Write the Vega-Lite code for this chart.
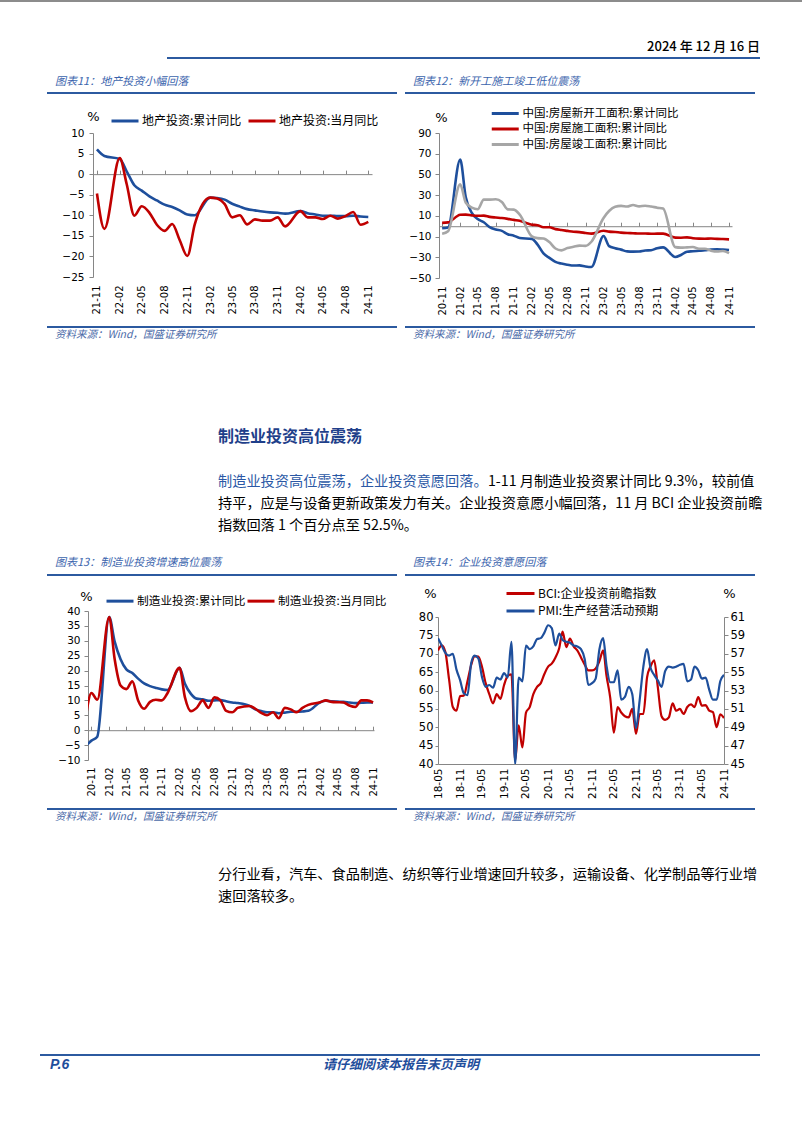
{
"$schema": "https://vega.github.io/schema/vega-lite/v6.json",
"padding": 0,
"background": "#ffffff",
"datasets": {"one": [{}]},
"config": {
  "view": {"stroke": null},
  "font": "Noto Sans CJK SC",
  "axis": {"labelFont": "DejaVu Sans", "labelFontSize": 10, "labelColor": "#000000", "domainColor": "#868686", "tickColor": "#868686", "grid": false, "titleFont": "DejaVu Sans", "titleFontWeight": "normal", "titleColor": "#000000", "titleFontSize": 13, "labelOverlap": false, "labelFlush": false, "labelBound": false},
  "legend": {"labelFont": "Noto Sans CJK SC", "labelColor": "#000000", "symbolType": "stroke", "symbolStrokeWidth": 3, "padding": 0, "labelLimit": 300}
},
"bounds": "flush",
"spacing": 0,
"resolve": {"scale": {"color": "independent"}, "legend": {"color": "independent"}},
"vconcat": [
  {"width": 802, "height": 2, "view": {"fill": "#8c8c8c"}, "data": {"name": "one"}, "mark": {"type": "point", "opacity": 0, "size": 0, "strokeWidth": 0}},
  {"width": 1, "height": 44, "data": {"name": "one"}, "mark": {"type": "point", "opacity": 0, "size": 0, "strokeWidth": 0}},
  {"width": 802, "height": 1, "data": {"name": "one"}, "mark": {"type": "point", "opacity": 0, "size": 0, "strokeWidth": 0},
   "title": {"text": "2024 年 12 月 16 日", "anchor": "end", "orient": "bottom", "frame": "group", "offset": 0, "dx": -42, "baseline": "middle", "font": "Noto Sans CJK SC", "fontSize": 13, "fontWeight": 500, "color": "#000000"}},
  {"width": 1, "height": 10, "data": {"name": "one"}, "mark": {"type": "point", "opacity": 0, "size": 0, "strokeWidth": 0}},
  {"bounds": "flush", "spacing": 0, "hconcat": [
    {"width": 167, "height": 1, "data": {"name": "one"}, "mark": {"type": "point", "opacity": 0, "size": 0, "strokeWidth": 0}},
    {"width": 593, "height": 2, "view": {"fill": "#2c5aa0"}, "data": {"name": "one"}, "mark": {"type": "point", "opacity": 0, "size": 0, "strokeWidth": 0}}
  ]},
  {"width": 1, "height": 24, "data": {"name": "one"}, "mark": {"type": "point", "opacity": 0, "size": 0, "strokeWidth": 0}},
  {"bounds": "flush", "spacing": 0, "hconcat": [
    {"width": 55, "height": 1, "data": {"name": "one"}, "mark": {"type": "point", "opacity": 0, "size": 0, "strokeWidth": 0}},
    {"width": 358, "height": 1, "data": {"name": "one"}, "mark": {"type": "point", "opacity": 0, "size": 0, "strokeWidth": 0},
     "title": {"text": "图表11：地产投资小幅回落", "anchor": "start", "orient": "bottom", "frame": "group", "offset": 0, "baseline": "middle", "font": "Noto Sans CJK SC", "fontSize": 11, "fontStyle": "italic", "fontWeight": "normal", "color": "#3b64ad"}},
    {"width": 350, "height": 1, "data": {"name": "one"}, "mark": {"type": "point", "opacity": 0, "size": 0, "strokeWidth": 0},
     "title": {"text": "图表12：新开工施工竣工低位震荡", "anchor": "start", "orient": "bottom", "frame": "group", "offset": 0, "baseline": "middle", "font": "Noto Sans CJK SC", "fontSize": 11, "fontStyle": "italic", "fontWeight": "normal", "color": "#3b64ad"}}
  ]},
  {"width": 1, "height": 11, "data": {"name": "one"}, "mark": {"type": "point", "opacity": 0, "size": 0, "strokeWidth": 0}},
  {"bounds": "flush", "spacing": 0, "hconcat": [
    {"width": 47, "height": 1, "data": {"name": "one"}, "mark": {"type": "point", "opacity": 0, "size": 0, "strokeWidth": 0}},
    {"width": 350, "height": 2, "view": {"fill": "#2c5aa0"}, "data": {"name": "one"}, "mark": {"type": "point", "opacity": 0, "size": 0, "strokeWidth": 0}},
    {"width": 8, "height": 1, "data": {"name": "one"}, "mark": {"type": "point", "opacity": 0, "size": 0, "strokeWidth": 0}},
    {"width": 350, "height": 2, "view": {"fill": "#2c5aa0"}, "data": {"name": "one"}, "mark": {"type": "point", "opacity": 0, "size": 0, "strokeWidth": 0}}
  ]},
  {"width": 1, "height": 41, "data": {"name": "one"}, "mark": {"type": "point", "opacity": 0, "size": 0, "strokeWidth": 0}},
  {"bounds": "flush", "spacing": 0, "resolve": {"scale": {"color": "independent"}, "legend": {"color": "independent"}}, "hconcat": [
    {"width": 93, "height": 1, "data": {"name": "one"}, "mark": {"type": "point", "opacity": 0, "size": 0, "strokeWidth": 0}},
    {"width": 279, "height": 144,
     "data": {"values": [
      {"d":"2021-11-01","a":6.0,"b":-4.7},{"d":"2021-12-01","a":4.4,"b":-13.3},{"d":"2022-02-01","a":3.7,"b":3.9},{"d":"2022-03-01","a":0.7,"b":-2.4},{"d":"2022-04-01","a":-2.7,"b":-10.1},{"d":"2022-05-01","a":-4.0,"b":-7.8},{"d":"2022-06-01","a":-5.4,"b":-9.4},{"d":"2022-07-01","a":-6.4,"b":-12.3},{"d":"2022-08-01","a":-7.4,"b":-13.8},{"d":"2022-09-01","a":-8.0,"b":-12.1},{"d":"2022-10-01","a":-8.8,"b":-16.0},{"d":"2022-11-01","a":-9.8,"b":-19.9},{"d":"2022-12-01","a":-10.0,"b":-12.2},{"d":"2023-02-01","a":-5.7,"b":-5.7},{"d":"2023-03-01","a":-5.8,"b":-5.9},{"d":"2023-04-01","a":-6.2,"b":-7.3},{"d":"2023-05-01","a":-7.2,"b":-10.5},{"d":"2023-06-01","a":-7.9,"b":-10.0},{"d":"2023-07-01","a":-8.5,"b":-12.2},{"d":"2023-08-01","a":-8.8,"b":-11.0},{"d":"2023-09-01","a":-9.1,"b":-11.3},{"d":"2023-10-01","a":-9.3,"b":-11.3},{"d":"2023-11-01","a":-9.4,"b":-10.5},{"d":"2023-12-01","a":-9.6,"b":-12.7},{"d":"2024-02-01","a":-9.0,"b":-9.0},{"d":"2024-03-01","a":-9.5,"b":-10.5},{"d":"2024-04-01","a":-9.8,"b":-10.5},{"d":"2024-05-01","a":-10.1,"b":-10.9},{"d":"2024-06-01","a":-10.1,"b":-10.1},{"d":"2024-07-01","a":-10.2,"b":-10.8},{"d":"2024-08-01","a":-10.2,"b":-10.2},{"d":"2024-09-01","a":-10.1,"b":-9.2},{"d":"2024-10-01","a":-10.3,"b":-12.3},{"d":"2024-11-01","a":-10.4,"b":-11.6}
     ]},
     "transform": [{"fold": ["a", "b"], "as": ["s", "v"]}],
     "resolve": {"axis": {"x": "independent"}},
     "layer": [
      {"mark": {"type": "line", "interpolate": "monotone", "strokeWidth": 2.6, "clip": true},
       "encoding": {
        "x": {"field": "d", "type": "temporal", "scale": {"type": "utc", "domain": [{"year":2021,"month":10,"date":16,"utc":true},{"year":2024,"month":11,"date":16,"utc":true}]},
              "axis": {"orient": "bottom", "values": [{"year":2021,"month":11,"utc":true},{"year":2022,"month":2,"utc":true},{"year":2022,"month":5,"utc":true},{"year":2022,"month":8,"utc":true},{"year":2022,"month":11,"utc":true},{"year":2023,"month":2,"utc":true},{"year":2023,"month":5,"utc":true},{"year":2023,"month":8,"utc":true},{"year":2023,"month":11,"utc":true},{"year":2024,"month":2,"utc":true},{"year":2024,"month":5,"utc":true},{"year":2024,"month":8,"utc":true},{"year":2024,"month":11,"utc":true}],
                       "format": "%y-%m", "labelAngle": -90, "ticks": false, "tickSize": 0, "domain": false, "labelPadding": 8, "labelOverlap": false, "title": null}},
        "y": {"field": "v", "type": "quantitative", "scale": {"domain": [-25, 10], "nice": false, "zero": false},
              "axis": {"values": [-25,-20,-15,-10,-5,0,5,10], "title": "%", "titleAngle": 0, "titleAlign": "center", "titleBaseline": "middle", "titleX": 0, "titleY": -17, "tickSize": 4, "labelPadding": 5, "labelFontSize": 10.5, "labelOverlap": false}},
        "color": {"field": "s", "type": "nominal", "scale": {"domain": ["a", "b"], "range": ["#1e4f9c", "#c00000"]},
                  "legend": {"orient": "none", "legendX": 17, "legendY": -27, "direction": "horizontal", "title": null, "symbolSize": 729, "labelFontSize": 12, "columnPadding": 0, "labelOffset": 2,
                             "labelExpr": "datum.label == 'a' ? '地产投资:累计同比' : '地产投资:当月同比'"}}
       }},
      {"mark": {"type": "point", "opacity": 0},
       "encoding": {
        "x": {"field": "d", "type": "temporal",
              "axis": {"orient": "top", "offset": -41.14, "values": [{"year":2021,"month":11,"utc":true},{"year":2022,"month":2,"utc":true},{"year":2022,"month":5,"utc":true},{"year":2022,"month":8,"utc":true},{"year":2022,"month":11,"utc":true},{"year":2023,"month":2,"utc":true},{"year":2023,"month":5,"utc":true},{"year":2023,"month":8,"utc":true},{"year":2023,"month":11,"utc":true},{"year":2024,"month":2,"utc":true},{"year":2024,"month":5,"utc":true},{"year":2024,"month":8,"utc":true},{"year":2024,"month":11,"utc":true}],
                       "labels": false, "ticks": true, "tickSize": 4, "domain": true, "title": null}},
        "y": {"field": "v", "type": "quantitative", "axis": {"values": [-25,-20,-15,-10,-5,0,5,10], "labelOverlap": false}}
       }}
     ]},
    {"width": 67, "height": 1, "data": {"name": "one"}, "mark": {"type": "point", "opacity": 0, "size": 0, "strokeWidth": 0}},
    {"width": 293, "height": 145,
     "data": {"values": [
      {"d":"2020-11-01","n":-2.0,"c":3.2,"w":-7.3},{"d":"2020-12-01","n":-1.2,"c":3.7,"w":-4.9},{"d":"2021-02-01","n":64.3,"c":11.0,"w":40.4},{"d":"2021-03-01","n":28.2,"c":11.2,"w":22.9},{"d":"2021-04-01","n":12.8,"c":10.5,"w":17.9},{"d":"2021-05-01","n":6.9,"c":10.1,"w":16.4},{"d":"2021-06-01","n":3.8,"c":10.2,"w":25.7},{"d":"2021-07-01","n":-0.9,"c":9.0,"w":25.7},{"d":"2021-08-01","n":-3.2,"c":8.4,"w":26.0},{"d":"2021-09-01","n":-4.5,"c":7.9,"w":23.4},{"d":"2021-10-01","n":-7.7,"c":7.1,"w":16.3},{"d":"2021-11-01","n":-9.1,"c":6.1,"w":16.0},{"d":"2021-12-01","n":-11.4,"c":5.2,"w":11.2},
      {"d":"2022-02-01","n":-12.2,"c":1.5,"w":-9.8},{"d":"2022-03-01","n":-17.5,"c":1.0,"w":-11.5},{"d":"2022-04-01","n":-26.3,"c":-1.0,"w":-11.9},{"d":"2022-05-01","n":-30.6,"c":-1.0,"w":-15.3},{"d":"2022-06-01","n":-34.4,"c":-2.8,"w":-21.5},{"d":"2022-07-01","n":-36.1,"c":-3.7,"w":-23.3},{"d":"2022-08-01","n":-37.2,"c":-4.5,"w":-21.1},{"d":"2022-09-01","n":-38.0,"c":-5.3,"w":-19.9},{"d":"2022-10-01","n":-37.8,"c":-5.7,"w":-18.7},{"d":"2022-11-01","n":-38.9,"c":-6.5,"w":-19.0},{"d":"2022-12-01","n":-39.4,"c":-7.2,"w":-15.0},
      {"d":"2023-02-01","n":-9.4,"c":-4.4,"w":8.0},{"d":"2023-03-01","n":-19.2,"c":-5.2,"w":14.7},{"d":"2023-04-01","n":-21.2,"c":-5.6,"w":18.8},{"d":"2023-05-01","n":-22.6,"c":-6.2,"w":19.6},{"d":"2023-06-01","n":-24.3,"c":-6.6,"w":19.0},{"d":"2023-07-01","n":-24.5,"c":-6.8,"w":20.5},{"d":"2023-08-01","n":-24.4,"c":-7.1,"w":19.2},{"d":"2023-09-01","n":-23.4,"c":-7.1,"w":19.8},{"d":"2023-10-01","n":-23.2,"c":-7.3,"w":19.0},{"d":"2023-11-01","n":-21.2,"c":-7.2,"w":17.9},{"d":"2023-12-01","n":-20.4,"c":-7.2,"w":17.0},
      {"d":"2024-02-01","n":-29.7,"c":-11.0,"w":-20.2},{"d":"2024-03-01","n":-27.8,"c":-11.1,"w":-20.7},{"d":"2024-04-01","n":-24.6,"c":-10.8,"w":-20.4},{"d":"2024-05-01","n":-24.2,"c":-11.6,"w":-20.1},{"d":"2024-06-01","n":-23.7,"c":-12.0,"w":-21.8},{"d":"2024-07-01","n":-23.2,"c":-12.1,"w":-21.8},{"d":"2024-08-01","n":-22.5,"c":-11.9,"w":-23.6},{"d":"2024-09-01","n":-22.2,"c":-12.2,"w":-24.4},{"d":"2024-10-01","n":-22.6,"c":-12.4,"w":-23.9},{"d":"2024-11-01","n":-23.0,"c":-12.7,"w":-26.0}
     ]},
     "transform": [{"fold": ["n", "c", "w"], "as": ["s", "v"]}],
     "resolve": {"axis": {"x": "independent"}},
     "layer": [
      {"mark": {"type": "line", "interpolate": "monotone", "strokeWidth": 2.6, "clip": true},
       "encoding": {
        "x": {"field": "d", "type": "temporal", "scale": {"type": "utc", "domain": [{"year":2020,"month":10,"date":16,"utc":true},{"year":2024,"month":11,"date":16,"utc":true}]},
              "axis": {"orient": "bottom", "values": [{"year":2020,"month":11,"utc":true},{"year":2021,"month":2,"utc":true},{"year":2021,"month":5,"utc":true},{"year":2021,"month":8,"utc":true},{"year":2021,"month":11,"utc":true},{"year":2022,"month":2,"utc":true},{"year":2022,"month":5,"utc":true},{"year":2022,"month":8,"utc":true},{"year":2022,"month":11,"utc":true},{"year":2023,"month":2,"utc":true},{"year":2023,"month":5,"utc":true},{"year":2023,"month":8,"utc":true},{"year":2023,"month":11,"utc":true},{"year":2024,"month":2,"utc":true},{"year":2024,"month":5,"utc":true},{"year":2024,"month":8,"utc":true},{"year":2024,"month":11,"utc":true}],
                       "format": "%y-%m", "labelAngle": -90, "ticks": false, "tickSize": 0, "domain": false, "labelPadding": 8, "labelOverlap": false, "title": null}},
        "y": {"field": "v", "type": "quantitative", "scale": {"domain": [-50, 90], "nice": false, "zero": false},
              "axis": {"values": [-50,-30,-10,10,30,50,70,90], "title": "%", "titleAngle": 0, "titleAlign": "center", "titleBaseline": "middle", "titleX": 2, "titleY": -16, "tickSize": 4, "labelPadding": 4, "labelFontSize": 10.5, "labelOverlap": false}},
        "color": {"field": "s", "type": "nominal", "scale": {"domain": ["n", "c", "w"], "range": ["#1e4f9c", "#c00000", "#a6a6a6"]},
                  "legend": {"orient": "none", "legendX": 57.75, "legendY": -28, "direction": "vertical", "title": null, "symbolType": "M-2,0H2", "symbolSize": 182, "labelFontSize": 11.5, "rowPadding": 0.5, "labelOffset": 8.75,
                             "labelExpr": "datum.label == 'n' ? '中国:房屋新开工面积:累计同比' : datum.label == 'c' ? '中国:房屋施工面积:累计同比' : '中国:房屋竣工面积:累计同比'"}}
       }},
      {"mark": {"type": "point", "opacity": 0},
       "encoding": {
        "x": {"field": "d", "type": "temporal",
              "axis": {"orient": "top", "offset": -93.21, "values": [{"year":2020,"month":11,"utc":true},{"year":2021,"month":2,"utc":true},{"year":2021,"month":5,"utc":true},{"year":2021,"month":8,"utc":true},{"year":2021,"month":11,"utc":true},{"year":2022,"month":2,"utc":true},{"year":2022,"month":5,"utc":true},{"year":2022,"month":8,"utc":true},{"year":2022,"month":11,"utc":true},{"year":2023,"month":2,"utc":true},{"year":2023,"month":5,"utc":true},{"year":2023,"month":8,"utc":true},{"year":2023,"month":11,"utc":true},{"year":2024,"month":2,"utc":true},{"year":2024,"month":5,"utc":true},{"year":2024,"month":8,"utc":true},{"year":2024,"month":11,"utc":true}],
                       "labels": false, "ticks": true, "tickSize": 4, "domain": true, "title": null}},
        "y": {"field": "v", "type": "quantitative", "axis": {"values": [-50,-30,-10,10,30,50,70,90], "labelOverlap": false}}
       }}
     ]}
  ]},
  {"width": 1, "height": 193, "data": {"name": "one"}, "mark": {"type": "point", "opacity": 0, "size": 0, "strokeWidth": 0}},
  {"bounds": "flush", "spacing": 0, "hconcat": [
    {"width": 47, "height": 1, "data": {"name": "one"}, "mark": {"type": "point", "opacity": 0, "size": 0, "strokeWidth": 0}},
    {"width": 350, "height": 2, "view": {"fill": "#2c5aa0"}, "data": {"name": "one"}, "mark": {"type": "point", "opacity": 0, "size": 0, "strokeWidth": 0},
     "title": {"text": "资料来源：Wind，国盛证券研究所", "anchor": "start", "orient": "bottom", "frame": "group", "offset": 7, "dx": 8, "baseline": "middle", "font": "Noto Sans CJK SC", "fontSize": 10.5, "fontStyle": "italic", "fontWeight": "normal", "color": "#4b6aa8"}},
    {"width": 8, "height": 1, "data": {"name": "one"}, "mark": {"type": "point", "opacity": 0, "size": 0, "strokeWidth": 0}},
    {"width": 350, "height": 2, "view": {"fill": "#2c5aa0"}, "data": {"name": "one"}, "mark": {"type": "point", "opacity": 0, "size": 0, "strokeWidth": 0},
     "title": {"text": "资料来源：Wind，国盛证券研究所", "anchor": "start", "orient": "bottom", "frame": "group", "offset": 7, "dx": 8, "baseline": "middle", "font": "Noto Sans CJK SC", "fontSize": 10.5, "fontStyle": "italic", "fontWeight": "normal", "color": "#4b6aa8"}}
  ]},
  {"width": 1, "height": 110, "data": {"name": "one"}, "mark": {"type": "point", "opacity": 0, "size": 0, "strokeWidth": 0}},
  {"width": 802, "height": 1, "data": {"name": "one"}, "mark": {"type": "point", "opacity": 0, "size": 0, "strokeWidth": 0},
   "title": {"text": "制造业投资高位震荡", "anchor": "start", "orient": "bottom", "frame": "group", "offset": 0, "dx": 218, "baseline": "middle", "font": "Noto Sans CJK SC", "fontSize": 16, "fontWeight": "bold", "color": "#1f3f8a"}},
  {"width": 1, "height": 44, "data": {"name": "one"}, "mark": {"type": "point", "opacity": 0, "size": 0, "strokeWidth": 0}},
  {"bounds": "flush", "spacing": 0, "hconcat": [
    {"width": 218, "height": 1, "data": {"name": "one"}, "mark": {"type": "point", "opacity": 0, "size": 0, "strokeWidth": 0}},
    {"width": 270, "height": 1, "data": {"name": "one"}, "mark": {"type": "point", "opacity": 0, "size": 0, "strokeWidth": 0},
     "title": {"text": "制造业投资高位震荡，企业投资意愿回落。", "anchor": "start", "orient": "bottom", "frame": "group", "offset": 0, "baseline": "middle", "font": "Noto Sans CJK SC", "fontSize": 14.2, "fontWeight": "normal", "color": "#2b58a5"}},
    {"width": 272, "height": 1, "data": {"name": "one"}, "mark": {"type": "point", "opacity": 0, "size": 0, "strokeWidth": 0},
     "title": {"text": "1-11 月制造业投资累计同比 9.3%，较前值", "anchor": "start", "orient": "bottom", "frame": "group", "offset": 0, "baseline": "middle", "font": "Noto Sans CJK SC", "fontSize": 14.2, "fontWeight": "normal", "color": "#000000"}}
  ]},
  {"width": 1, "height": 22, "data": {"name": "one"}, "mark": {"type": "point", "opacity": 0, "size": 0, "strokeWidth": 0}},
  {"width": 802, "height": 1, "data": {"name": "one"}, "mark": {"type": "point", "opacity": 0, "size": 0, "strokeWidth": 0},
   "title": {"text": "持平，应是与设备更新政策发力有关。企业投资意愿小幅回落，11 月 BCI 企业投资前瞻", "anchor": "start", "orient": "bottom", "frame": "group", "offset": 0, "dx": 218, "baseline": "middle", "font": "Noto Sans CJK SC", "fontSize": 14.2, "fontWeight": "normal", "color": "#000000"}},
  {"width": 1, "height": 21, "data": {"name": "one"}, "mark": {"type": "point", "opacity": 0, "size": 0, "strokeWidth": 0}},
  {"width": 802, "height": 1, "data": {"name": "one"}, "mark": {"type": "point", "opacity": 0, "size": 0, "strokeWidth": 0},
   "title": {"text": "指数回落 1 个百分点至 52.5%。", "anchor": "start", "orient": "bottom", "frame": "group", "offset": 0, "dx": 218, "baseline": "middle", "font": "Noto Sans CJK SC", "fontSize": 14.2, "fontWeight": "normal", "color": "#000000"}},
  {"width": 1, "height": 36, "data": {"name": "one"}, "mark": {"type": "point", "opacity": 0, "size": 0, "strokeWidth": 0}},
  {"bounds": "flush", "spacing": 0, "hconcat": [
    {"width": 55, "height": 1, "data": {"name": "one"}, "mark": {"type": "point", "opacity": 0, "size": 0, "strokeWidth": 0}},
    {"width": 358, "height": 1, "data": {"name": "one"}, "mark": {"type": "point", "opacity": 0, "size": 0, "strokeWidth": 0},
     "title": {"text": "图表13：制造业投资增速高位震荡", "anchor": "start", "orient": "bottom", "frame": "group", "offset": 0, "baseline": "middle", "font": "Noto Sans CJK SC", "fontSize": 11, "fontStyle": "italic", "fontWeight": "normal", "color": "#3b64ad"}},
    {"width": 350, "height": 1, "data": {"name": "one"}, "mark": {"type": "point", "opacity": 0, "size": 0, "strokeWidth": 0},
     "title": {"text": "图表14：企业投资意愿回落", "anchor": "start", "orient": "bottom", "frame": "group", "offset": 0, "baseline": "middle", "font": "Noto Sans CJK SC", "fontSize": 11, "fontStyle": "italic", "fontWeight": "normal", "color": "#3b64ad"}}
  ]},
  {"width": 1, "height": 12, "data": {"name": "one"}, "mark": {"type": "point", "opacity": 0, "size": 0, "strokeWidth": 0}},
  {"bounds": "flush", "spacing": 0, "hconcat": [
    {"width": 47, "height": 1, "data": {"name": "one"}, "mark": {"type": "point", "opacity": 0, "size": 0, "strokeWidth": 0}},
    {"width": 350, "height": 2, "view": {"fill": "#2c5aa0"}, "data": {"name": "one"}, "mark": {"type": "point", "opacity": 0, "size": 0, "strokeWidth": 0}},
    {"width": 8, "height": 1, "data": {"name": "one"}, "mark": {"type": "point", "opacity": 0, "size": 0, "strokeWidth": 0}},
    {"width": 350, "height": 2, "view": {"fill": "#2c5aa0"}, "data": {"name": "one"}, "mark": {"type": "point", "opacity": 0, "size": 0, "strokeWidth": 0}}
  ]},
  {"width": 1, "height": 37, "data": {"name": "one"}, "mark": {"type": "point", "opacity": 0, "size": 0, "strokeWidth": 0}},
  {"bounds": "flush", "spacing": 0, "resolve": {"scale": {"color": "independent"}, "legend": {"color": "independent"}}, "hconcat": [
    {"width": 88, "height": 1, "data": {"name": "one"}, "mark": {"type": "point", "opacity": 0, "size": 0, "strokeWidth": 0}},
    {"width": 286, "height": 149,
     "data": {"values": [
      {"d":"2020-10-01","m":-5.3,"r":3.7},{"d":"2020-11-01","m":-3.5,"r":12.5},{"d":"2020-12-01","m":-2.2,"r":10.2},{"d":"2021-02-01","m":38.0,"r":38.0},{"d":"2021-03-01","m":29.8,"r":24.0},{"d":"2021-04-01","m":23.8,"r":15.0},{"d":"2021-05-01","m":20.4,"r":13.8},{"d":"2021-06-01","m":19.2,"r":16.4},{"d":"2021-07-01","m":17.3,"r":10.0},{"d":"2021-08-01","m":15.7,"r":7.2},{"d":"2021-09-01","m":14.8,"r":9.5},{"d":"2021-10-01","m":14.2,"r":10.2},{"d":"2021-11-01","m":13.7,"r":10.0},{"d":"2021-12-01","m":13.5,"r":12.5},
      {"d":"2022-02-01","m":20.9,"r":20.9},{"d":"2022-03-01","m":15.6,"r":11.0},{"d":"2022-04-01","m":12.2,"r":6.4},{"d":"2022-05-01","m":10.6,"r":7.5},{"d":"2022-06-01","m":10.4,"r":10.0},{"d":"2022-07-01","m":9.9,"r":7.5},{"d":"2022-08-01","m":10.0,"r":11.0},{"d":"2022-09-01","m":10.1,"r":10.0},{"d":"2022-10-01","m":9.7,"r":6.5},{"d":"2022-11-01","m":9.3,"r":6.0},{"d":"2022-12-01","m":9.1,"r":7.5},
      {"d":"2023-02-01","m":8.1,"r":8.1},{"d":"2023-03-01","m":7.0,"r":7.2},{"d":"2023-04-01","m":6.4,"r":5.8},{"d":"2023-05-01","m":6.0,"r":5.0},{"d":"2023-06-01","m":6.0,"r":6.0},{"d":"2023-07-01","m":5.7,"r":4.0},{"d":"2023-08-01","m":5.9,"r":7.5},{"d":"2023-09-01","m":6.2,"r":7.0},{"d":"2023-10-01","m":6.2,"r":6.0},{"d":"2023-11-01","m":6.3,"r":7.5},{"d":"2023-12-01","m":6.5,"r":8.5},
      {"d":"2024-02-01","m":9.4,"r":9.4},{"d":"2024-03-01","m":9.9,"r":10.0},{"d":"2024-04-01","m":9.7,"r":9.5},{"d":"2024-05-01","m":9.6,"r":9.4},{"d":"2024-06-01","m":9.5,"r":9.3},{"d":"2024-07-01","m":9.3,"r":8.3},{"d":"2024-08-01","m":9.1,"r":7.8},{"d":"2024-09-01","m":9.2,"r":10.0},{"d":"2024-10-01","m":9.3,"r":10.0},{"d":"2024-11-01","m":9.3,"r":9.3}
     ]},
     "transform": [{"fold": ["m", "r"], "as": ["s", "v"]}],
     "resolve": {"axis": {"x": "independent"}},
     "layer": [
      {"mark": {"type": "line", "interpolate": "monotone", "strokeWidth": 2.6, "clip": true},
       "encoding": {
        "x": {"field": "d", "type": "temporal", "scale": {"type": "utc", "domain": [{"year":2020,"month":10,"date":14,"utc":true},{"year":2024,"month":11,"date":6,"utc":true}]},
              "axis": {"orient": "bottom", "values": [{"year":2020,"month":11,"utc":true},{"year":2021,"month":2,"utc":true},{"year":2021,"month":5,"utc":true},{"year":2021,"month":8,"utc":true},{"year":2021,"month":11,"utc":true},{"year":2022,"month":2,"utc":true},{"year":2022,"month":5,"utc":true},{"year":2022,"month":8,"utc":true},{"year":2022,"month":11,"utc":true},{"year":2023,"month":2,"utc":true},{"year":2023,"month":5,"utc":true},{"year":2023,"month":8,"utc":true},{"year":2023,"month":11,"utc":true},{"year":2024,"month":2,"utc":true},{"year":2024,"month":5,"utc":true},{"year":2024,"month":8,"utc":true},{"year":2024,"month":11,"utc":true}],
                       "format": "%y-%m", "labelAngle": -90, "ticks": false, "tickSize": 0, "domain": false, "labelPadding": 7, "labelOverlap": false, "title": null}},
        "y": {"field": "v", "type": "quantitative", "scale": {"domain": [-10, 40], "nice": false, "zero": false},
              "axis": {"values": [-10,-5,0,5,10,15,20,25,30,35,40], "title": "%", "titleAngle": 0, "titleAlign": "center", "titleBaseline": "middle", "titleX": -2, "titleY": -15, "tickSize": 4, "labelPadding": 4, "labelFontSize": 10.5, "labelOverlap": false}},
        "color": {"field": "s", "type": "nominal", "scale": {"domain": ["m", "r"], "range": ["#1e4f9c", "#c00000"]},
                  "legend": {"orient": "none", "legendX": 17, "legendY": -25, "direction": "horizontal", "title": null, "symbolSize": 729, "labelFontSize": 11.7, "columnPadding": -5, "labelOffset": 2,
                             "labelExpr": "datum.label == 'm' ? '制造业投资:累计同比' : '制造业投资:当月同比'"}}
       }},
      {"mark": {"type": "point", "opacity": 0},
       "encoding": {
        "x": {"field": "d", "type": "temporal",
              "axis": {"orient": "top", "offset": -119.2, "values": [{"year":2020,"month":11,"utc":true},{"year":2021,"month":2,"utc":true},{"year":2021,"month":5,"utc":true},{"year":2021,"month":8,"utc":true},{"year":2021,"month":11,"utc":true},{"year":2022,"month":2,"utc":true},{"year":2022,"month":5,"utc":true},{"year":2022,"month":8,"utc":true},{"year":2022,"month":11,"utc":true},{"year":2023,"month":2,"utc":true},{"year":2023,"month":5,"utc":true},{"year":2023,"month":8,"utc":true},{"year":2023,"month":11,"utc":true},{"year":2024,"month":2,"utc":true},{"year":2024,"month":5,"utc":true},{"year":2024,"month":8,"utc":true},{"year":2024,"month":11,"utc":true}],
                       "labels": false, "ticks": true, "tickSize": 4, "domain": true, "title": null}},
        "y": {"field": "v", "type": "quantitative", "axis": {"values": [-10,-5,0,5,10,15,20,25,30,35,40], "labelOverlap": false}}
       }}
     ]}
  ]},
  {"width": 1, "height": 6, "data": {"name": "one"}, "mark": {"type": "point", "opacity": 0, "size": 0, "strokeWidth": 0}},
  {"bounds": "flush", "spacing": 0, "resolve": {"scale": {"color": "independent"}, "legend": {"color": "independent"}}, "hconcat": [
    {"width": 438, "height": 1, "data": {"name": "one"}, "mark": {"type": "point", "opacity": 0, "size": 0, "strokeWidth": 0}},
    {"width": 286, "height": 147,
     "data": {"values": [
      {"d":"2018-05-01","bci":70.9,"pmi":58.7},{"d":"2018-06-01","bci":72.3,"pmi":57.9},{"d":"2018-07-01","bci":70.5,"pmi":57.1},{"d":"2018-08-01","bci":63.0,"pmi":56.8},{"d":"2018-09-01","bci":55.5,"pmi":57.0},{"d":"2018-10-01","bci":54.5,"pmi":55.3},{"d":"2018-11-01","bci":58.5,"pmi":54.1},{"d":"2018-12-01","bci":58.6,"pmi":52.7},
      {"d":"2019-01-01","bci":62.5,"pmi":52.5},{"d":"2019-02-01","bci":67.0,"pmi":56.0},{"d":"2019-03-01","bci":69.3,"pmi":56.8},{"d":"2019-04-01","bci":69.2,"pmi":56.5},{"d":"2019-05-01","bci":66.5,"pmi":54.5},{"d":"2019-06-01","bci":62.0,"pmi":53.4},{"d":"2019-07-01","bci":59.0,"pmi":53.6},{"d":"2019-08-01","bci":56.5,"pmi":53.3},{"d":"2019-09-01","bci":59.0,"pmi":54.4},{"d":"2019-10-01","bci":57.7,"pmi":54.2},{"d":"2019-11-01","bci":61.5,"pmi":54.9},{"d":"2019-12-01","bci":64.0,"pmi":54.4},
      {"d":"2020-01-01","bci":64.4,"pmi":58.3},{"d":"2020-02-01","bci":41.0,"pmi":45.0},{"d":"2020-03-01","bci":50.5,"pmi":54.4},{"d":"2020-04-01","bci":44.5,"pmi":54.0},{"d":"2020-05-01","bci":54.0,"pmi":57.9},{"d":"2020-06-01","bci":55.5,"pmi":57.5},{"d":"2020-07-01","bci":59.0,"pmi":57.8},{"d":"2020-08-01","bci":61.0,"pmi":58.6},{"d":"2020-09-01","bci":62.0,"pmi":58.7},{"d":"2020-10-01","bci":64.5,"pmi":59.3},{"d":"2020-11-01","bci":66.5,"pmi":60.1},{"d":"2020-12-01","bci":67.3,"pmi":59.8},
      {"d":"2021-01-01","bci":69.0,"pmi":57.9},{"d":"2021-02-01","bci":71.5,"pmi":59.2},{"d":"2021-03-01","bci":76.0,"pmi":58.5},{"d":"2021-04-01","bci":71.8,"pmi":58.3},{"d":"2021-05-01","bci":74.1,"pmi":58.2},{"d":"2021-06-01","bci":72.0,"pmi":57.9},{"d":"2021-07-01","bci":70.9,"pmi":57.8},{"d":"2021-08-01","bci":69.0,"pmi":57.5},{"d":"2021-09-01","bci":67.0,"pmi":56.4},{"d":"2021-10-01","bci":65.5,"pmi":53.6},{"d":"2021-11-01","bci":65.5,"pmi":53.8},{"d":"2021-12-01","bci":66.0,"pmi":54.3},
      {"d":"2022-01-01","bci":68.0,"pmi":57.5},{"d":"2022-02-01","bci":70.9,"pmi":58.7},{"d":"2022-03-01","bci":64.0,"pmi":55.7},{"d":"2022-04-01","bci":58.0,"pmi":53.9},{"d":"2022-05-01","bci":48.5,"pmi":53.9},{"d":"2022-06-01","bci":55.5,"pmi":55.2},{"d":"2022-07-01","bci":54.0,"pmi":52.0},{"d":"2022-08-01","bci":53.0,"pmi":52.3},{"d":"2022-09-01","bci":52.7,"pmi":53.4},{"d":"2022-10-01","bci":55.0,"pmi":52.6},{"d":"2022-11-01","bci":48.2,"pmi":48.9},{"d":"2022-12-01","bci":53.6,"pmi":51.9},
      {"d":"2023-01-01","bci":53.6,"pmi":55.6},{"d":"2023-02-01","bci":63.6,"pmi":57.5},{"d":"2023-03-01","bci":66.5,"pmi":55.5},{"d":"2023-04-01","bci":68.2,"pmi":54.7},{"d":"2023-05-01","bci":61.0,"pmi":54.1},{"d":"2023-06-01","bci":53.0,"pmi":53.4},{"d":"2023-07-01","bci":52.0,"pmi":55.1},{"d":"2023-08-01","bci":52.7,"pmi":55.6},{"d":"2023-09-01","bci":56.5,"pmi":55.5},{"d":"2023-10-01","bci":54.5,"pmi":55.6},{"d":"2023-11-01","bci":55.0,"pmi":55.8},{"d":"2023-12-01","bci":53.6,"pmi":55.9},
      {"d":"2024-01-01","bci":55.5,"pmi":54.0},{"d":"2024-02-01","bci":56.2,"pmi":54.2},{"d":"2024-03-01","bci":55.5,"pmi":55.6},{"d":"2024-04-01","bci":58.2,"pmi":55.2},{"d":"2024-05-01","bci":55.9,"pmi":54.3},{"d":"2024-06-01","bci":56.0,"pmi":54.4},{"d":"2024-07-01","bci":54.5,"pmi":53.1},{"d":"2024-08-01","bci":54.1,"pmi":52.0},{"d":"2024-09-01","bci":50.0,"pmi":52.0},{"d":"2024-10-01","bci":53.5,"pmi":54.0},{"d":"2024-11-01","bci":52.5,"pmi":54.7}
     ]},
     "resolve": {"scale": {"y": "independent"}},
     "layer": [
      {"mark": {"type": "line", "interpolate": "monotone", "strokeWidth": 2.2, "clip": true},
       "encoding": {
        "x": {"field": "d", "type": "temporal", "scale": {"type": "utc", "domain": [{"year":2018,"month":5,"date":1,"utc":true},{"year":2024,"month":11,"date":1,"utc":true}]},
              "axis": {"orient": "bottom", "values": [{"year":2018,"month":5,"utc":true},{"year":2018,"month":11,"utc":true},{"year":2019,"month":5,"utc":true},{"year":2019,"month":11,"utc":true},{"year":2020,"month":5,"utc":true},{"year":2020,"month":11,"utc":true},{"year":2021,"month":5,"utc":true},{"year":2021,"month":11,"utc":true},{"year":2022,"month":5,"utc":true},{"year":2022,"month":11,"utc":true},{"year":2023,"month":5,"utc":true},{"year":2023,"month":11,"utc":true},{"year":2024,"month":5,"utc":true},{"year":2024,"month":11,"utc":true}],
                       "format": "%y-%m", "labelAngle": -90, "ticks": false, "tickSize": 0, "domain": true, "labelPadding": 4, "labelFontSize": 10.5, "labelOverlap": false, "title": null}},
        "y": {"field": "bci", "type": "quantitative", "scale": {"domain": [40, 80], "nice": false, "zero": false},
              "axis": {"orient": "left", "values": [40,45,50,55,60,65,70,75,80], "title": "%", "titleAngle": 0, "titleAlign": "center", "titleBaseline": "middle", "titleX": -8, "titleY": -24, "tickSize": 3, "labelPadding": 2, "labelFontSize": 11.5, "labelOverlap": false}},
        "color": {"datum": "BCI:企业投资前瞻指数", "type": "nominal", "scale": {"domain": ["BCI:企业投资前瞻指数", "PMI:生产经营活动预期"], "range": ["#c00000", "#1e4f9c"]},
                  "legend": {"orient": "none", "legendX": 74, "legendY": -32, "direction": "vertical", "title": null, "symbolType": "M-2,0H2", "symbolSize": 196, "labelFontSize": 12, "rowPadding": 2.5, "labelOffset": 9}}
       }},
      {"mark": {"type": "line", "interpolate": "monotone", "strokeWidth": 2.2, "clip": true},
       "encoding": {
        "x": {"field": "d", "type": "temporal", "axis": {"values": [{"year":2018,"month":5,"utc":true},{"year":2018,"month":11,"utc":true},{"year":2019,"month":5,"utc":true},{"year":2019,"month":11,"utc":true},{"year":2020,"month":5,"utc":true},{"year":2020,"month":11,"utc":true},{"year":2021,"month":5,"utc":true},{"year":2021,"month":11,"utc":true},{"year":2022,"month":5,"utc":true},{"year":2022,"month":11,"utc":true},{"year":2023,"month":5,"utc":true},{"year":2023,"month":11,"utc":true},{"year":2024,"month":5,"utc":true},{"year":2024,"month":11,"utc":true}], "labelOverlap": false}},
        "y": {"field": "pmi", "type": "quantitative", "scale": {"domain": [45, 61], "nice": false, "zero": false},
              "axis": {"orient": "right", "values": [45,47,49,51,53,55,57,59,61], "title": "%", "titleAngle": 0, "titleAlign": "center", "titleBaseline": "middle", "titleX": 5, "titleY": -24, "tickSize": 4, "labelPadding": 2, "labelFontSize": 11.5, "labelOverlap": false}},
        "color": {"datum": "PMI:生产经营活动预期", "type": "nominal"}
       }}
     ]}
  ]},
  {"width": 1, "height": 191, "data": {"name": "one"}, "mark": {"type": "point", "opacity": 0, "size": 0, "strokeWidth": 0}},
  {"bounds": "flush", "spacing": 0, "hconcat": [
    {"width": 47, "height": 1, "data": {"name": "one"}, "mark": {"type": "point", "opacity": 0, "size": 0, "strokeWidth": 0}},
    {"width": 350, "height": 2, "view": {"fill": "#2c5aa0"}, "data": {"name": "one"}, "mark": {"type": "point", "opacity": 0, "size": 0, "strokeWidth": 0},
     "title": {"text": "资料来源：Wind，国盛证券研究所", "anchor": "start", "orient": "bottom", "frame": "group", "offset": 7, "dx": 8, "baseline": "middle", "font": "Noto Sans CJK SC", "fontSize": 10.5, "fontStyle": "italic", "fontWeight": "normal", "color": "#4b6aa8"}},
    {"width": 8, "height": 1, "data": {"name": "one"}, "mark": {"type": "point", "opacity": 0, "size": 0, "strokeWidth": 0}},
    {"width": 350, "height": 2, "view": {"fill": "#2c5aa0"}, "data": {"name": "one"}, "mark": {"type": "point", "opacity": 0, "size": 0, "strokeWidth": 0},
     "title": {"text": "资料来源：Wind，国盛证券研究所", "anchor": "start", "orient": "bottom", "frame": "group", "offset": 7, "dx": 8, "baseline": "middle", "font": "Noto Sans CJK SC", "fontSize": 10.5, "fontStyle": "italic", "fontWeight": "normal", "color": "#4b6aa8"}}
  ]},
  {"width": 1, "height": 66, "data": {"name": "one"}, "mark": {"type": "point", "opacity": 0, "size": 0, "strokeWidth": 0}},
  {"width": 802, "height": 1, "data": {"name": "one"}, "mark": {"type": "point", "opacity": 0, "size": 0, "strokeWidth": 0},
   "title": {"text": "分行业看，汽车、食品制造、纺织等行业增速回升较多，运输设备、化学制品等行业增", "anchor": "start", "orient": "bottom", "frame": "group", "offset": 0, "dx": 218, "baseline": "middle", "font": "Noto Sans CJK SC", "fontSize": 14.2, "fontWeight": "normal", "color": "#000000"}},
  {"width": 1, "height": 21, "data": {"name": "one"}, "mark": {"type": "point", "opacity": 0, "size": 0, "strokeWidth": 0}},
  {"width": 802, "height": 1, "data": {"name": "one"}, "mark": {"type": "point", "opacity": 0, "size": 0, "strokeWidth": 0},
   "title": {"text": "速回落较多。", "anchor": "start", "orient": "bottom", "frame": "group", "offset": 0, "dx": 218, "baseline": "middle", "font": "Noto Sans CJK SC", "fontSize": 14.2, "fontWeight": "normal", "color": "#000000"}},
  {"width": 1, "height": 157, "data": {"name": "one"}, "mark": {"type": "point", "opacity": 0, "size": 0, "strokeWidth": 0}},
  {"bounds": "flush", "spacing": 0, "hconcat": [
    {"width": 40, "height": 1, "data": {"name": "one"}, "mark": {"type": "point", "opacity": 0, "size": 0, "strokeWidth": 0}},
    {"width": 720, "height": 2, "view": {"fill": "#2c5aa0"}, "data": {"name": "one"}, "mark": {"type": "point", "opacity": 0, "size": 0, "strokeWidth": 0},
     "title": {"text": "P.6", "anchor": "start", "orient": "bottom", "frame": "group", "offset": 9, "dx": 10, "baseline": "middle", "font": "Liberation Sans", "fontSize": 14, "fontStyle": "italic", "fontWeight": "bold", "color": "#1f4e9c"}}
  ]},
  {"width": 1, "height": 10, "data": {"name": "one"}, "mark": {"type": "point", "opacity": 0, "size": 0, "strokeWidth": 0}},
  {"width": 802, "height": 1, "data": {"name": "one"}, "mark": {"type": "point", "opacity": 0, "size": 0, "strokeWidth": 0},
   "title": {"text": "请仔细阅读本报告末页声明", "anchor": "middle", "orient": "bottom", "frame": "group", "offset": 0, "baseline": "middle", "font": "Noto Sans CJK SC", "fontSize": 13, "fontStyle": "italic", "fontWeight": "bold", "color": "#1f4e9c"}},
  {"width": 1, "height": 68, "data": {"name": "one"}, "mark": {"type": "point", "opacity": 0, "size": 0, "strokeWidth": 0}}
]
}
